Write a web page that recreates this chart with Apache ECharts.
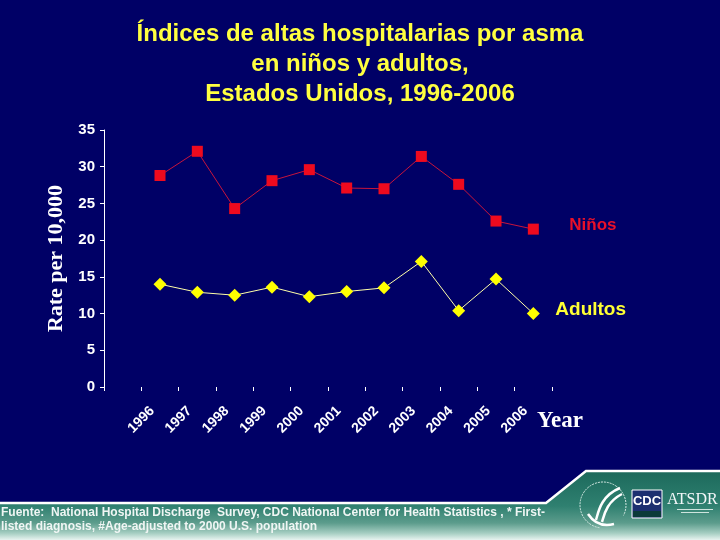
<!DOCTYPE html>
<html>
<head>
<meta charset="utf-8">
<script src="https://cdn.jsdelivr.net/npm/echarts@6/dist/echarts.min.js"></script>
<style>
  html, body { margin: 0; padding: 0; background: #000066; }
  #main { width: 720px; height: 540px; }
</style>
</head>
<body>
<div id="main"></div>
<script>
// categorias (primer hueco vacio como en el original)
var years = ['', '1996', '1997', '1998', '1999', '2000', '2001', '2002', '2003', '2004', '2005', '2006'];
// tasas por 10,000
var ninos = [null, 28.8, 32.1, 24.3, 28.1, 29.6, 27.1, 27.0, 31.4, 27.6, 22.6, 21.5];
var adultos = [null, 14.0, 12.9, 12.5, 13.6, 12.3, 13.0, 13.5, 17.1, 10.4, 14.7, 10.0];
var yTicks = [0, 5, 10, 15, 20, 25, 30, 35];

var titulo = 'Índices de altas hospitalarias por asma\nen niños y adultos,\nEstados Unidos, 1996-2006';
var fuente = 'Fuente:  National Hospital Discharge  Survey, CDC National Center for Health Statistics , * First-\nlisted diagnosis, #Age-adjusted to 2000 U.S. population';

var chart = echarts.init(document.getElementById('main'), null, { renderer: 'canvas' });

var option = {
  backgroundColor: '#000066',
  animation: false,
  title: {
    text: titulo,
    left: 'center',
    top: 14,
    textStyle: {
      color: '#FFFF40',
      fontSize: 24,
      fontWeight: 'bold',
      fontFamily: 'Liberation Sans, Arial',
      lineHeight: 30
    }
  },
  grid: {
    left: 104,
    right: 168,
    top: 130,
    bottom: 153
  },
  xAxis: {
    type: 'category',
    data: years,
    boundaryGap: true,
    axisLine: { show: false },
    axisTick: {
      show: true,
      interval: 0,
      length: 4,
      lineStyle: { color: '#ffffff', width: 1 }
    },
    axisLabel: {
      interval: 0,
      rotate: 45,
      margin: 14,
      padding: [0, 11, 0, 0],
      color: '#ffffff',
      fontSize: 14,
      fontWeight: 'bold',
      fontFamily: 'Liberation Sans, Arial'
    },
    splitLine: { show: false }
  },
  yAxis: {
    type: 'value',
    min: yTicks[0],
    max: yTicks[yTicks.length - 1],
    interval: 5,
    name: 'Rate per 10,000',
    nameLocation: 'middle',
    nameGap: 30,
    nameTextStyle: {
      color: '#ffffff',
      fontSize: 22,
      fontWeight: 'bold',
      fontFamily: 'Liberation Serif, Times New Roman'
    },
    axisLine: { show: true, lineStyle: { color: '#ffffff', width: 1 } },
    axisTick: { show: true, length: 4, lineStyle: { color: '#ffffff' } },
    axisLabel: {
      margin: 9,
      color: '#ffffff',
      fontSize: 15,
      fontWeight: 'bold',
      fontFamily: 'Liberation Sans, Arial'
    },
    splitLine: { show: false }
  },
  series: [{
    name: 'Niños',
    type: 'line',
    data: ninos,
    symbol: 'rect',
    symbolSize: 11,
    itemStyle: { color: '#EE0A1E' },
    lineStyle: { color: '#C8143C', width: 1 },
    endLabel: {
      show: true,
      formatter: 'Niños',
      distance: 36,
      offset: [0, -4],
      color: '#E8102A',
      fontSize: 17,
      fontWeight: 'bold',
      fontFamily: 'Liberation Sans, Arial'
    }
  }, {
    name: 'Adultos',
    type: 'line',
    data: adultos,
    symbol: 'diamond',
    symbolSize: 13,
    itemStyle: { color: '#FFFF00' },
    lineStyle: { color: '#FFFFA8', width: 1 },
    endLabel: {
      show: true,
      formatter: 'Adultos',
      distance: 22,
      offset: [0, -4],
      color: '#FFFF33',
      fontSize: 19,
      fontWeight: 'bold',
      fontFamily: 'Liberation Sans, Arial'
    }
  }],
  graphic: [
    // etiqueta del eje X
    {
      type: 'text',
      left: 537,
      top: 410,
      style: {
        text: 'Year',
        fill: '#ffffff',
        font: 'bold 23px "Liberation Serif", "Times New Roman"'
      }
    },
    // banda inferior
    {
      type: 'polygon',
      shape: { points: [[0, 504], [546, 504], [586, 472], [720, 472], [720, 540], [0, 540]] },
      style: {
        fill: {
          type: 'linear', x: 0, y: 0, x2: 0, y2: 1,
          colorStops: [
            { offset: 0, color: '#1d6a5c' },
            { offset: 0.5, color: '#2f8070' },
            { offset: 0.75, color: '#5c9c8c' },
            { offset: 0.9, color: '#a6cec2' },
            { offset: 1, color: '#e8f4f0' }
          ]
        }
      }
    },
    {
      type: 'polyline',
      shape: { points: [[0, 503], [546, 503], [586, 471], [720, 471]] },
      style: { stroke: '#ffffff', lineWidth: 2.5, fill: null }
    },
    {
      type: 'text',
      left: 1,
      top: 506,
      style: {
        text: fuente,
        fill: '#f0f6f4',
        font: 'bold 12px "Liberation Sans Narrow", "Liberation Sans"',
        lineHeight: 14
      }
    },
    // sello HHS
    {
      type: 'arc',
      shape: { cx: 603, cy: 505, r: 23, startAngle: Math.PI * 0.55, endAngle: Math.PI * 2.15 },
      style: { stroke: '#d8ece6', lineWidth: 1, lineDash: [2, 1], fill: null }
    },
    {
      type: 'bezierCurve',
      shape: { x1: 620, y1: 488, x2: 596, y2: 520, cpx1: 600, cpy1: 496, cpx2: 598, cpy2: 514 },
      style: { stroke: '#ffffff', lineWidth: 2.5, fill: null }
    },
    {
      type: 'bezierCurve',
      shape: { x1: 622, y1: 494, x2: 602, y2: 522, cpx1: 606, cpy1: 502, cpx2: 604, cpy2: 516 },
      style: { stroke: '#ffffff', lineWidth: 2.5, fill: null }
    },
    {
      type: 'bezierCurve',
      shape: { x1: 588, y1: 514, x2: 614, y2: 524, cpx1: 596, cpy1: 526, cpx2: 606, cpy2: 526 },
      style: { stroke: '#ffffff', lineWidth: 2.5, fill: null }
    },
    // logo CDC
    {
      type: 'rect',
      shape: { x: 632, y: 490, width: 30, height: 28 },
      style: { fill: '#1c2f70', stroke: '#ffffff', lineWidth: 1 }
    },
    {
      type: 'rect',
      shape: { x: 633, y: 511, width: 28, height: 6 },
      style: { fill: '#0c3a3a' }
    },
    {
      type: 'text',
      x: 647,
      y: 501,
      style: {
        text: 'CDC',
        fill: '#ffffff',
        align: 'center',
        verticalAlign: 'middle',
        font: 'bold 13px "Liberation Sans Narrow", "Liberation Sans"'
      }
    },
    {
      type: 'text',
      x: 667,
      y: 500,
      style: {
        text: 'ATSDR',
        fill: '#f2f6f8',
        verticalAlign: 'middle',
        font: '16px "Liberation Serif", "Times New Roman"'
      }
    },
    {
      type: 'rect',
      shape: { x: 677, y: 509, width: 36, height: 1 },
      style: { fill: '#cfe4de' }
    },
    {
      type: 'rect',
      shape: { x: 681, y: 512, width: 28, height: 1 },
      style: { fill: '#cfe4de' }
    }
  ]
};

chart.setOption(option);
</script>
</body>
</html>
